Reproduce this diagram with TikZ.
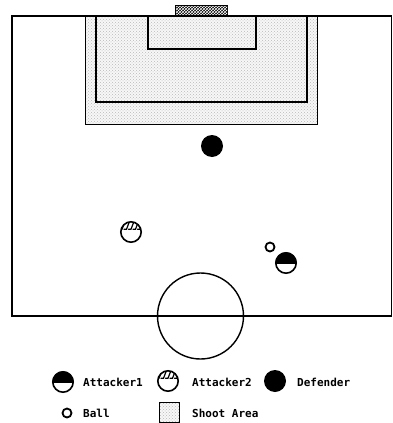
\documentclass[tikz,border=0pt]{standalone}
\usepackage{fontspec}
\newfontfamily\monofont{DejaVu Sans Mono}
\usetikzlibrary{patterns}
\tikzset{
  fieldline/.style={line width=1.4pt},
  thinline/.style={line width=0.9pt},
  ringline/.style={line width=1.6pt},
  legendtext/.style={anchor=west, font=\monofont\bfseries\fontsize{11}{12}\selectfont, inner sep=0pt},
  stipple/.style={pattern=crosshatch dots, pattern color=gray!55},
  attone/.pic={
    \begin{scope}\clip (-12,-12) rectangle (12,0); \fill (0,0) circle (10.8);\end{scope}
    \draw[ringline] (0,0) circle (10.2);
  },
  atttwo/.pic={
    \begin{scope}\clip (0,0) circle (10.2);
      \foreach \h in {-9,-4.5,0,4.5,9}{
        \draw[line width=1.2pt, line cap=round] (\h-2.5,-2.8) -- (\h,-2.8) -- (\h+3,-10.5);
      }
    \end{scope}
    \draw[ringline] (0,0) circle (10.2);
  },
  defender/.pic={\fill (0,0) circle (11);},
  ballpic/.pic={\draw[line width=1.8pt] (0,0) circle (4.5);}
}
\begin{document}
\begin{tikzpicture}[x=1pt,y=-1pt]
\useasboundingbox (0,0) rectangle (393,423);
% shoot area
\fill[gray!6] (85,15) rectangle (317,124);
\fill[stipple] (85,15) rectangle (317,124);
\draw[thinline] (85,15) rectangle (317,124);
% penalty box and goal box
\draw[fieldline] (96,16) -- (96,102) -- (307,102) -- (307,16);
\draw[fieldline] (148,16) -- (148,49) -- (256,49) -- (256,16);
% field
\draw[fieldline] (12,16) rectangle (391.3,316);
% goal
\fill[black] (175,5) rectangle (228,16);
\fill[pattern=crosshatch, pattern color=white] (176,6.5) rectangle (227,14);
% centre circle
\draw[fieldline] (200.5,316) circle (43);
% players
\pic at (212,146) {defender};
\pic at (131,232) {atttwo};
\pic at (270,247) {ballpic};
\pic at (286,263) {attone};
% legend
\pic at (63,382) {attone};
\node[legendtext] (l1) at (83,382) {Attacker1};
\pic at (168,381) {atttwo};
\node[legendtext] (l2) at (192,382) {Attacker2};
\pic at (275,381) {defender};
\node[legendtext] (l3) at (297,382) {Defender};
\pic at (67,413) {ballpic};
\node[legendtext] (l4) at (83,413) {Ball};
\fill[gray!6] (159,402) rectangle (179,422);
\fill[stipple] (159,402) rectangle (179,422);
\draw[thinline] (159,402) rectangle (179,422);
\node[legendtext] (l5) at (192,413) {Shoot Area};
\end{tikzpicture}
\end{document}
